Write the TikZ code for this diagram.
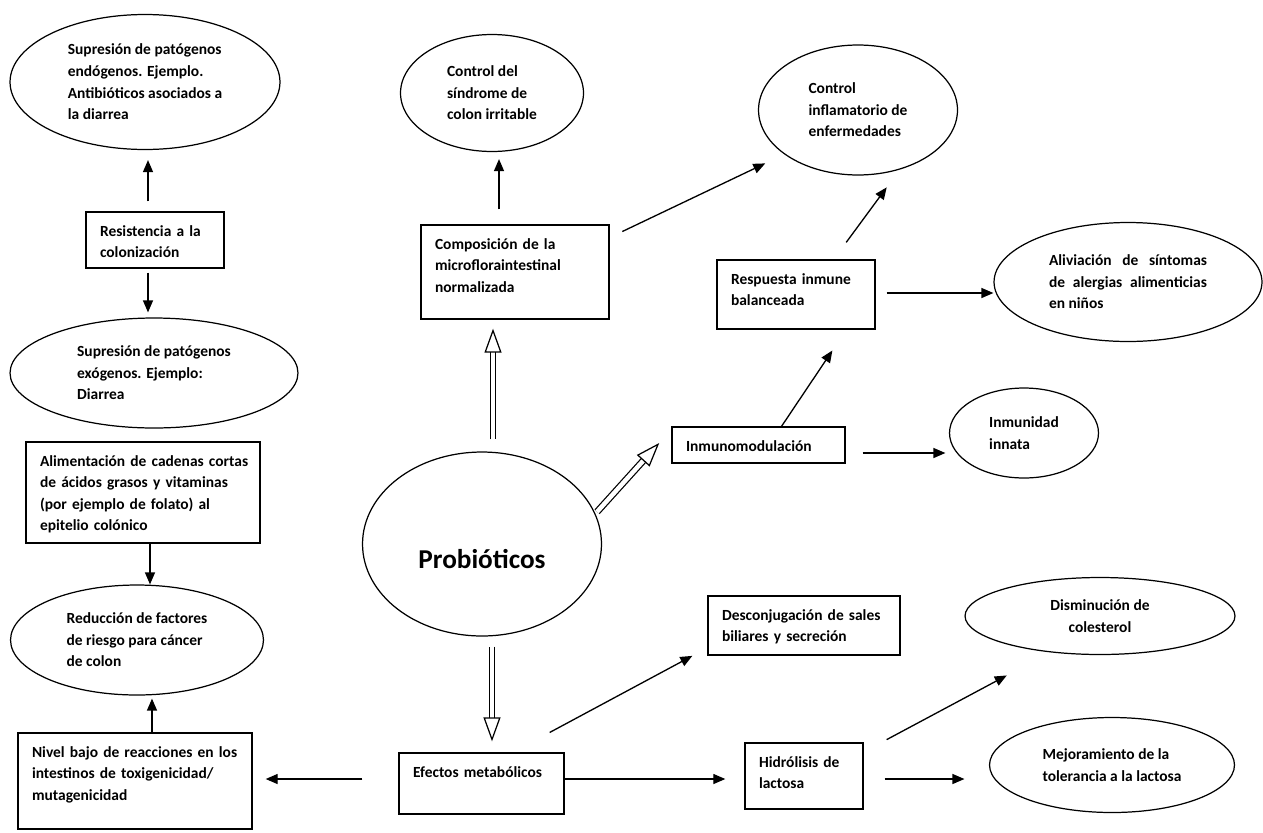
\documentclass[tikz,border=0pt]{standalone}
\usepackage{fontspec}
\setmainfont{Carlito}
\usetikzlibrary{shapes.geometric, positioning, calc, arrows.meta}

\begin{document}
\begin{tikzpicture}[x=0.02cm, y=-0.02cm]
    \tikzstyle{txt}=[font=\bfseries\fontsize{8.8}{12.3}\selectfont]
    \tikzstyle{box}=[txt, draw, rectangle, line width=0.8pt, align=left, inner xsep=0.28cm, inner ysep=6.7pt, text height=7pt]
    \tikzstyle{oval}=[txt, draw, ellipse, line width=0.7pt, align=left, inner sep=2pt]
    \tikzstyle{arr}=[line width=0.75pt, -{Triangle[length=0.24cm, width=0.2cm]}]
    \tikzstyle{hollow}=[draw, line width=0.7pt, double, double distance=0.09cm, -{Triangle[open, length=0.48cm, width=0.34cm]}]
    \useasboundingbox (0,0) rectangle (1263,832);

    % left column
    \node[oval, minimum width=5.4cm, minimum height=2.7cm] (endo) at (145,82) {Supresión de patógenos\\endógenos. Ejemplo.\\Antibióticos asociados a\\la diarrea};
    \node[box, text width=2.2cm, text depth=11.5pt] (resist) at (155,240) {Resistencia a la\\colonización};
    \node[oval, minimum width=5.76cm, minimum height=2.2cm] (exo) at (154,373) {Supresión de patógenos\\exógenos. Ejemplo:\\Diarrea};
    \node[box, text width=4.12cm, text depth=37.1pt] (feed) at (143,492.5) {\mbox{Alimentación de cadenas cortas}\\\mbox{de ácidos grasos y vitaminas}\\(por ejemplo de folato) al\\epitelio colónico};
    \node[oval, minimum width=5.06cm, minimum height=2.2cm] (cancer) at (137,640) {Reducción de factores\\de riesgo para cáncer\\de colon};
    \node[box, text width=4.12cm, text depth=34.2pt] (nivel) at (135,781) {\mbox{Nivel bajo de reacciones en los}\\intestinos de toxigenicidad/\\mutagenicidad};

    % middle
    \node[oval, minimum width=3.66cm, minimum height=2.34cm] (ibs) at (492,93) {Control del\\síndrome de\\colon irritable};
    \node[box, text width=3.2cm, text depth=33.1pt] (comp) at (515,272) {Composición de la\\microfloraintestinal\\normalizada};
    \node[oval, minimum width=4.78cm, minimum height=3.68cm, font=\bfseries\fontsize{15.5}{18}\selectfont, text height=28pt] (probi) at (482,544) {Probióticos};
    \node[box, text width=2.74cm, text depth=14.3pt] (efectos) at (481.5,783.5) {\mbox{Efectos metabólicos}};

    % right side
    \node[oval, minimum width=3.98cm, minimum height=2.6cm] (infl) at (858,110) {Control\\inflamatorio de\\enfermedades};
    \node[box, text width=2.6cm, text depth=18.9pt] (resp) at (796,294.5) {\mbox{Respuesta inmune}\\balanceada};
    \node[oval, minimum width=5.36cm, minimum height=2.38cm, text width=3.16cm, align=justify] (allergy) at (1128,282) {Aliviación de síntomas\linebreak de alergias alimenticias\linebreak en niños};
    \node[box, text width=2.9cm, text depth=0pt] (inmuno) at (758.5,445) {Inmunomodulación};
    \node[oval, minimum width=2.98cm, minimum height=1.8cm] (innate) at (1024,433) {Inmunidad\\innata};
    \node[box, text width=3.28cm, text depth=13.2pt] (desconj) at (804,625.5) {\mbox{Desconjugación de sales}\\biliares y secreción};
    \node[oval, minimum width=5.4cm, minimum height=1.54cm, align=center] (chol) at (1100,616) {Disminución de\\colesterol};
    \node[box, text width=1.8cm, text depth=17.2pt] (hidro) at (804,776) {\mbox{Hidrólisis de}\\lactosa};
    \node[oval, minimum width=4.9cm, minimum height=1.9cm] (lact) at (1112,765) {Mejoramiento de la\\tolerancia a la lactosa};

    \path[arr]
    ([xshift=-0.14cm]resist.north) edge[shorten <=0.2cm, shorten >=0.2cm] ([xshift=-0.14cm]resist.north |- endo.south)
    ([xshift=-0.14cm]resist.south) edge[shorten <=0.08cm, shorten >=0.1cm] ([xshift=-0.14cm]resist.south |- exo.north)
    ([xshift=0.14cm]feed.south) edge ([xshift=0.14cm]feed.south |- cancer.north)
    ([xshift=0.34cm]nivel.north) edge[shorten >=0.06cm] ([xshift=0.34cm]nivel.north |- cancer.south)
    ([yshift=0.09cm]efectos.west) edge[shorten <=0.72cm, shorten >=0.26cm] ([yshift=0.09cm]efectos.west -| nivel.east)
    ([yshift=0.09cm]efectos.east) edge[shorten >=0.38cm] ([yshift=0.09cm]efectos.east -| hidro.west)
    (efectos.45) edge[shorten <=0.84cm, shorten >=0.34cm] (desconj.193)
    ([yshift=-0.06cm]hidro.east) edge[shorten <=0.42cm, shorten >=0.49cm] ([yshift=-0.06cm]hidro.east -| lact.west)
    (hidro.22) edge[shorten <=0.52cm, shorten >=0.98cm] (chol.216)
    ([xshift=-0.32cm]comp.north) edge[shorten <=0.3cm, shorten >=0.14cm] ([xshift=-0.32cm]comp.north |- ibs.south)
    (comp.20) edge[shorten <=0.28cm, shorten >=0.42cm] (infl.211)
    (resp.43) edge[shorten <=0.42cm, shorten >=0.44cm] (infl.305)
    ([yshift=0.03cm]resp.east) edge[shorten <=0.22cm] ([yshift=0.03cm]resp.east -| allergy.west)
    (inmuno.39) edge[shorten >=0.5cm] (resp.325)
    ([yshift=-0.16cm]inmuno.east) edge[shorten <=0.34cm, shorten >=0.07cm] ([yshift=-0.16cm]inmuno.east -| innate.west);

    \path
    ([xshift=0.22cm]probi.north) edge[hollow, shorten <=0.24cm, shorten >=0.18cm] ([xshift=0.22cm]probi.north |- comp.south)
    ([xshift=0.2cm]probi.south) edge[hollow, shorten <=0.2cm, shorten >=0.22cm] ([xshift=0.2cm]probi.south |- efectos.north)
    (probi.15) edge[hollow, shorten <=0.05cm, shorten >=0.36cm] (inmuno.170);
\end{tikzpicture}
\end{document}
